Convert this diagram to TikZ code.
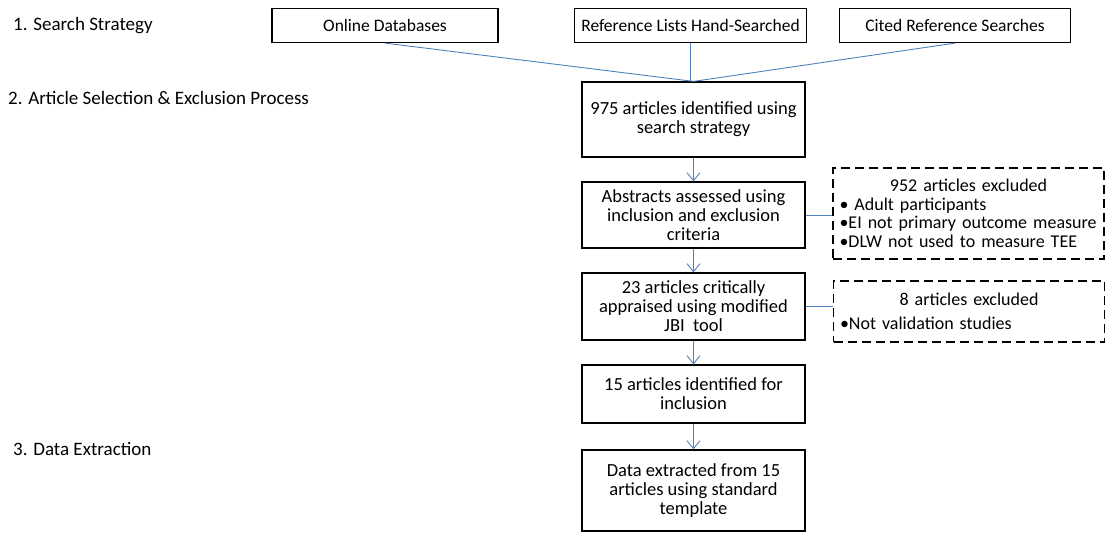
\documentclass[tikz,border=0pt]{standalone}
\usepackage{fontspec}
\setmainfont{Carlito}
\usetikzlibrary{arrows.meta}
\definecolor{linkblue}{HTML}{4F81BD}
\begin{document}
\begin{tikzpicture}[x=1pt,y=-1pt,
  font=\fontsize{18.5}{19}\selectfont,
  box/.style={draw=black, line width=1.2pt, inner sep=2pt, align=center},
  topbox/.style={box, font=\fontsize{17.5}{19}\selectfont},
  exbox/.style={draw=black, line width=1.2pt, dash pattern=on 9pt off 5pt, inner xsep=6.5pt, inner ysep=3pt, text width=258pt, align=left, font=\fontsize{18}{18.5}\selectfont},
  link/.style={draw=linkblue, line width=0.9pt},
  arr/.style={link, -{Straight Barb[length=8pt,width=13pt,line width=0.9pt]}},
  lbl/.style={anchor=west, inner sep=0pt, font=\fontsize{19}{20}\selectfont}]
\useasboundingbox (0,0) rectangle (1108,533);

% left labels
\node[lbl] (l1) at (13,26) {1. Search Strategy};
\node[lbl] (l2) at (8,98) {2. Article Selection \& Exclusion Process};
\node[lbl] (l3) at (13,449) {3. Data Extraction};

% search sources
\node[topbox, minimum width=226pt, minimum height=34pt] (od) at (385,25.5) {Online Databases};
\node[topbox, minimum width=232pt, minimum height=34pt] (rl) at (690.5,25.5) {Reference Lists Hand-Searched};
\node[topbox, minimum width=231pt, minimum height=34pt] (cr) at (955,25.5) {Cited Reference Searches};

% main column
\node[box, minimum width=223pt, minimum height=75pt] (n975) at (693.5,119.5) {975 articles identified using\\search strategy};
\node[box, minimum width=223pt, minimum height=66pt] (abs) at (693.5,215) {Abstracts assessed using\\inclusion and exclusion\\criteria};
\node[box, minimum width=223pt, minimum height=67pt] (n23) at (693.5,306.5) {23 articles critically\\appraised using modified\\JBI\ \ tool};
\node[box, minimum width=223pt, minimum height=58pt] (n15) at (693.5,394) {15 articles identified for\\inclusion};
\node[box, minimum width=223pt, minimum height=81pt] (data) at (693.5,490.5) {Data extracted from 15\\articles using standard\\template};

% exclusions
\node[exbox, minimum height=91pt] (ex1) at (968.5,213.5) {\makebox[258pt]{952 articles excluded}\\
\mbox{\textbullet\ Adult participants}\\
\mbox{\textbullet EI not primary outcome measure}\\
\mbox{\textbullet DLW not used to measure TEE}};
\node[exbox, minimum height=61pt] (ex2) at (969,311.5) {\makebox[258pt]{8 articles excluded}\\[5pt]
\mbox{\textbullet Not validation studies}};

% connectors
\draw[link] (od.south) -- (n975.north);
\draw[link] (rl.south) -- (rl.south |- n975.north);
\draw[link] (cr.south) -- (n975.north);
\draw[arr] (n975.south) -- (abs.north);
\draw[arr] (abs.south) -- (n23.north);
\draw[arr] (n23.south) -- (n15.north);
\draw[arr] (n15.south) -- (data.north);
\draw[link] (abs.east) -- (abs.east -| ex1.west);
\draw[link] (n23.east) -- (n23.east -| ex2.west);
\end{tikzpicture}
\end{document}
